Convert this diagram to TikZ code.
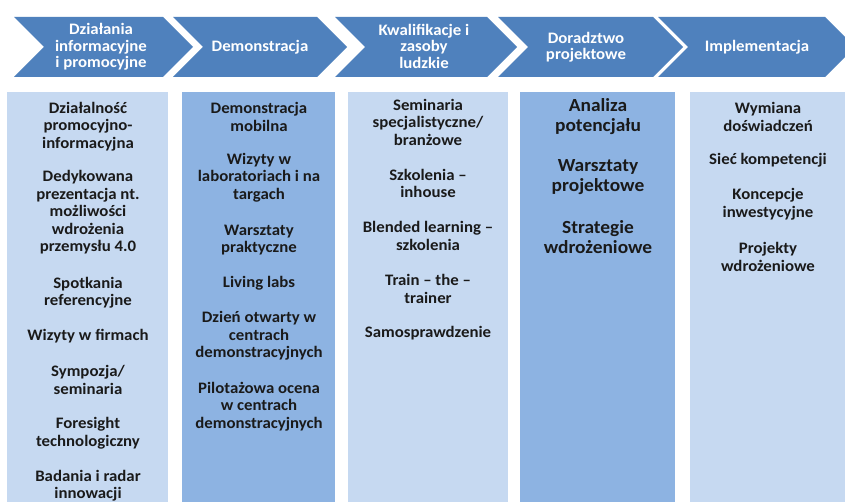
\documentclass[tikz,border=0pt]{standalone}
\usepackage{fontspec}
\setmainfont{Carlito}[FakeStretch=1.05]
\definecolor{chevblue}{HTML}{4F81BD}
\definecolor{colL}{HTML}{C6D9F1}
\definecolor{colD}{HTML}{8DB3E2}
\definecolor{txt}{HTML}{1A1A1A}
\newcommand\mychev[3]{\fill[chevblue] (#1,17) -- ++(#2,0) -- ++(30,30) -- ++(-30,30) -- ++(-#2,0) -- ++(30,-30) -- cycle;
  \node[ctext] (#3) at (#1+15+#2/2,47) {};}
\begin{document}
\begin{tikzpicture}[x=1pt,y=-1pt,
  ctext/.style={text=white, font=\bfseries\fontsize{16}{16.5}\selectfont, align=center, inner sep=0pt},
  colbox/.style={draw=none, anchor=north west, inner sep=0pt, minimum height=430pt},
  item/.style={text=txt, font=\bfseries\fontsize{16}{17.5}\selectfont, align=center, inner sep=0pt},
  bigitem/.style={text=txt, font=\bfseries\fontsize{18.5}{20}\selectfont, align=center, inner sep=0pt}]
\useasboundingbox (0,0) rectangle (845,502);
\clip (0,0) rectangle (845,502);
\fill[white] (0,0) rectangle (845,502);
% chevrons
\mychev{14}{149}{h1}
\mychev{173}{144}{h2}
\mychev{335}{152}{h3}
\mychev{498}{155}{h4}
\mychev{658}{167}{h5}
\node[ctext] (t1) at (101,47) {Działania\\informacyjne\\i promocyjne};
\node[ctext] (t2) at (260,47) {Demonstracja};
\node[ctext] (t3) at (424,46) {Kwalifikacje i\\zasoby\\ludzkie};
\node[ctext] (t4) at (586,47) {Doradztwo\\projektowe};
\node[ctext] (t5) at (757,47) {Implementacja};
% columns
\node[colbox, fill=colL, minimum width=161pt] (c1) at (7,92) {};
\node[colbox, fill=colD, minimum width=153pt] (c2) at (182,92) {};
\node[colbox, fill=colL, minimum width=160pt] (c3) at (348,92) {};
\node[colbox, fill=colD, minimum width=155pt] (c4) at (520,92) {};
\node[colbox, fill=colL, minimum width=165pt] (c5) at (690,92) {};
% column 1
\node[item] (a1) at (88,126.5) {Działalność\\promocyjno-\\informacyjna};
\node[item] (a2) at (88,212.5) {Dedykowana\\prezentacja nt.\\możliwości\\wdrożenia\\przemysłu 4.0};
\node[item] (a3) at (88,292.5) {Spotkania\\referencyjne};
\node[item] (a4) at (88,336) {Wizyty w firmach};
\node[item] (a5) at (88,379.7) {Sympozja/\\seminaria};
\node[item] (a6) at (88,433.3) {Foresight\\technologiczny};
\node[item] (a7) at (88,485.7) {Badania i radar\\innowacji};
% column 2
\node[item] (b1) at (259,116.7) {Demonstracja\\mobilna};
\node[item] (b2) at (259,177.5) {Wizyty w\\laboratoriach i na\\targach};
\node[item] (b3) at (259,240) {Warsztaty\\praktyczne};
\node[item] (b4) at (259,283.3) {Living labs};
\node[item] (b5) at (259,336) {Dzień otwarty w\\centrach\\demonstracyjnych};
\node[item] (b6) at (259,406.7) {Pilotażowa ocena\\w centrach\\demonstracyjnych};
% column 3
\node[item] (d1) at (428,122) {Seminaria\\specjalistyczne/\\branżowe};
\node[item] (d2) at (428,183.3) {Szkolenia –\\inhouse};
\node[item] (d3) at (428,236) {Blended learning –\\szkolenia};
\node[item] (d4) at (428,288.7) {Train – the –\\trainer};
\node[item] (d5) at (428,332.7) {Samosprawdzenie};
% column 4
\node[bigitem] (e1) at (598,116.7) {Analiza\\potencjału};
\node[bigitem] (e2) at (598,177) {Warsztaty\\projektowe};
\node[bigitem] (e3) at (598,236.7) {Strategie\\wdrożeniowe};
% column 5
\node[item] (f1) at (768,116.7) {Wymiana\\doświadczeń};
\node[item] (f2) at (768,160) {Sieć kompetencji};
\node[item] (f3) at (768,204) {Koncepcje\\inwestycyjne};
\node[item] (f4) at (768,257) {Projekty\\wdrożeniowe};
\end{tikzpicture}
\end{document}
